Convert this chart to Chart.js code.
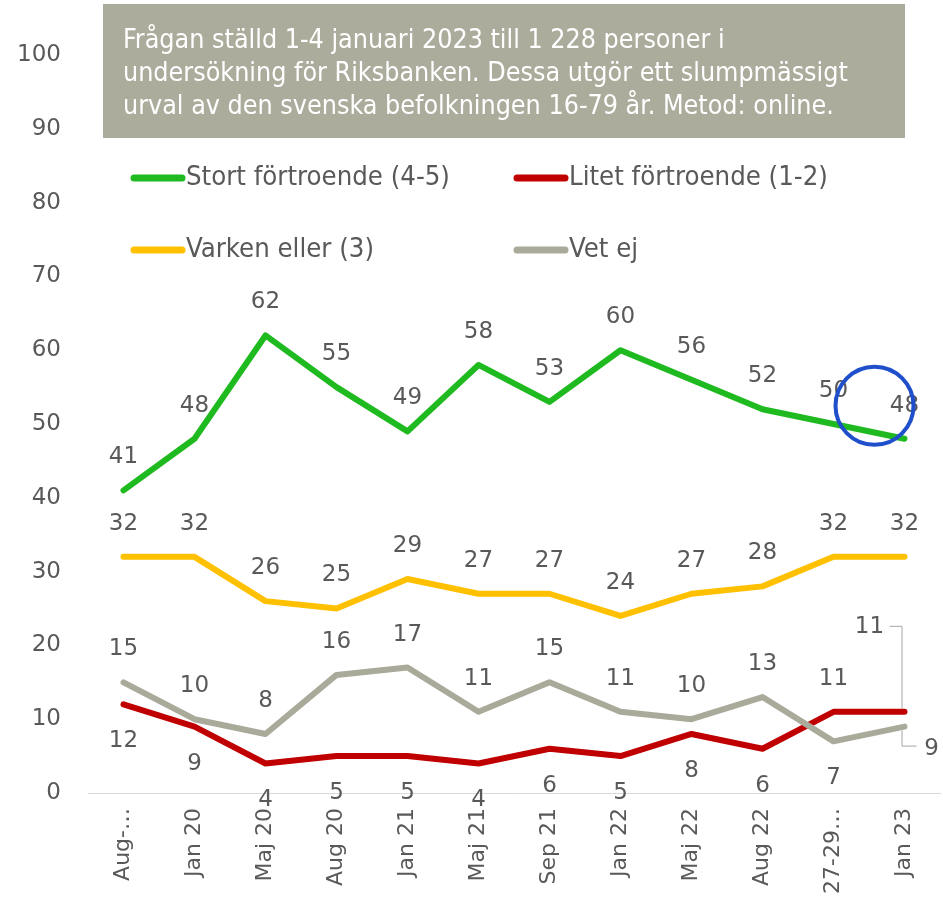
<!DOCTYPE html>
<html>
<head>
<meta charset="utf-8">
<script src="https://cdn.jsdelivr.net/npm/chart.js@4/dist/chart.umd.min.js"></script>
<style>
  body { margin: 0; background: #fff; }
  #wrap { width: 943px; height: 897px; }
</style>
</head>
<body>
<div id="wrap"><canvas id="myChart" width="943" height="897"></canvas></div>
<script>
// data
const categories = ['Aug-…', 'Jan 20', 'Maj 20', 'Aug 20', 'Jan 21', 'Maj 21', 'Sep 21', 'Jan 22', 'Maj 22', 'Aug 22', '27-29…', 'Jan 23'];
const stortValues  = [41, 48, 62, 55, 49, 58, 53, 60, 56, 52, 50, 48];
const litetValues  = [12, 9, 4, 5, 5, 4, 6, 5, 8, 6, 11, 11];
const varkenValues = [32, 32, 26, 25, 29, 27, 27, 24, 27, 28, 32, 32];
const vetEjValues  = [15, 10, 8, 16, 17, 11, 15, 11, 10, 13, 7, 9];
const yTicks = [0, 10, 20, 30, 40, 50, 60, 70, 80, 90, 100];
const seriesNames = ['Stort förtroende (4-5)', 'Litet förtroende (1-2)', 'Varken eller (3)', 'Vet ej'];
const noteLines = [
  'Frågan ställd 1-4 januari 2023 till 1 228 personer i',
  'undersökning för Riksbanken. Dessa utgör ett slumpmässigt',
  'urval av den svenska befolkningen 16-79 år. Metod: online.'
];

const GREEN = '#1fba1f', RED = '#c00000', YELLOW = '#ffc000', GREY = '#aaaa9a';
const LABEL = '#595959';
const NARROW = '"Liberation Sans Narrow", "DejaVu Sans Condensed", sans-serif';

// fit a narrow font so a given text gets a given width
function fitFont(ctx, text, width, family) {
  ctx.font = '24px ' + family;
  const w = ctx.measureText(text).width;
  return (24 * width / w).toFixed(2) + 'px ' + family;
}

/*============ overlay: note box, legend, labels, circle ============*/
const overlay = {
  id: 'overlay',
  afterDatasetsDraw(chart) {
    const ctx = chart.ctx;
    const xs = chart.scales.x, ys = chart.scales.y;
    ctx.save();

    // note box
    ctx.fillStyle = '#acac9c';
    ctx.fillRect(103, 4, 802, 134);
    ctx.fillStyle = '#ffffff';
    ctx.font = fitFont(ctx, noteLines[1], 725, NARROW);
    ctx.textAlign = 'left';
    ctx.textBaseline = 'middle';
    noteLines.forEach((t, i) => ctx.fillText(t, 123, 41 + i * 33));

    // legend 2x2
    const legendPos = [[131, 178], [514, 178], [131, 250], [514, 250]];
    ctx.font = fitFont(ctx, seriesNames[0], 264, NARROW);
    chart.data.datasets.forEach((ds, i) => {
      const [lx, ly] = legendPos[i];
      ctx.strokeStyle = ds.borderColor;
      ctx.lineWidth = 7;
      ctx.lineCap = 'round';
      ctx.beginPath();
      ctx.moveTo(lx + 3, ly);
      ctx.lineTo(lx + 51, ly);
      ctx.stroke();
      ctx.fillStyle = LABEL;
      ctx.fillText(ds.label, lx + 55, ly);
    });

    // data labels
    ctx.font = '23px "DejaVu Sans", Verdana, sans-serif';
    ctx.fillStyle = LABEL;
    ctx.textAlign = 'center';
    ctx.strokeStyle = '#a6a6a6';
    ctx.lineWidth = 1;
    ctx.lineCap = 'butt';
    chart.data.datasets.forEach(ds => {
      ds.data.forEach((v, i) => {
        const px = xs.getPixelForValue(i), py = ys.getPixelForValue(v);
        const side = ds.labelSide[i];
        if (side === 'above') {
          ctx.fillText(v, px, py - 33);
        } else if (side === 'below') {
          ctx.fillText(v, px, py + 37);
        } else if (side === 'leaderUp') {
          ctx.fillText(v, px - 35, py - 85);
          ctx.beginPath();
          ctx.moveTo(px - 15, py - 85.5);
          ctx.lineTo(px - 2.5, py - 85.5);
          ctx.lineTo(px - 2.5, py - 3);
          ctx.stroke();
        } else if (side === 'leaderDown') {
          ctx.fillText(v, px + 27, py + 22);
          ctx.beginPath();
          ctx.moveTo(px - 2.5, py + 4);
          ctx.lineTo(px - 2.5, py + 19.5);
          ctx.lineTo(px + 12, py + 19.5);
          ctx.stroke();
        }
      });
    });

    // blue ring round the latest green value
    const last = stortValues.length - 1;
    const cx = xs.getPixelForValue(last) - 30;
    const cy = ys.getPixelForValue(stortValues[last]) - 33;
    ctx.strokeStyle = '#1f4fcb';
    ctx.lineWidth = 4;
    ctx.beginPath();
    ctx.arc(cx, cy, 39, 0, Math.PI * 2);
    ctx.stroke();

    ctx.restore();
  }
};

function line(label, data, color, order, labelSide) {
  return {
    label: label,
    data: data,
    borderColor: color,
    backgroundColor: color,
    borderWidth: 6,
    borderCapStyle: 'round',
    borderJoinStyle: 'round',
    pointRadius: 0,
    tension: 0,
    order: order,
    labelSide: labelSide
  };
}

const above = categories.map(() => 'above');
const below = categories.map(() => 'below');
const litetSide = below.slice(0, 10).concat(['above', 'leaderUp']);
const vetEjSide = above.slice(0, 10).concat(['below', 'leaderDown']);

const ctx = document.getElementById('myChart');

new Chart(ctx, {
  type: 'line',
  data: {
    labels: categories,
    datasets: [
      line(seriesNames[0], stortValues, GREEN, 3, above),
      line(seriesNames[1], litetValues, RED, 2, litetSide),
      line(seriesNames[2], varkenValues, YELLOW, 1, above),
      line(seriesNames[3], vetEjValues, GREY, 0, vetEjSide)
    ]
  },
  options: {
    responsive: false,
    animation: false,
    layout: { padding: { top: 55, right: 3, left: 0, bottom: 0 } },
    plugins: {
      legend: { display: false },
      tooltip: { enabled: false }
    },
    scales: {
      x: {
        offset: true,
        grid: { display: false, drawTicks: false },
        border: { display: true, color: '#d9d9d9', width: 1 },
        afterFit: s => { s.height = 104; s.paddingLeft = 0; s.paddingRight = 0; },
        ticks: {
          autoSkip: false,
          minRotation: 90,
          maxRotation: 90,
          padding: 15,
          color: LABEL,
          font: { family: '"DejaVu Sans", Verdana, sans-serif', size: 22 }
        }
      },
      y: {
        min: 0,
        max: 100,
        grid: { display: false, drawTicks: false },
        border: { display: false },
        afterFit: s => { s.width = 88; },
        afterBuildTicks: s => { s.ticks = yTicks.map(v => ({ value: v })); },
        ticks: {
          padding: 27,
          color: LABEL,
          font: { family: '"DejaVu Sans", Verdana, sans-serif', size: 23 }
        }
      }
    }
  },
  plugins: [overlay]
});
</script>
</body>
</html>
